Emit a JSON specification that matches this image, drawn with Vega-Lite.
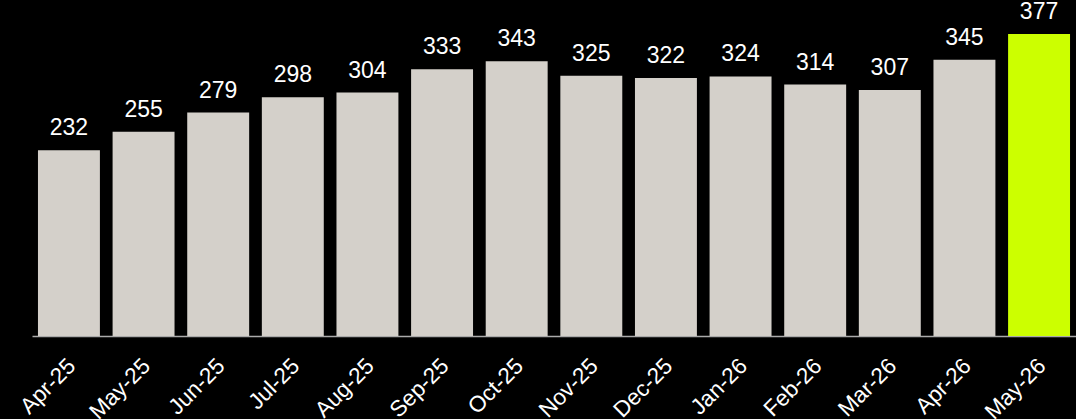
{
  "$schema": "https://vega.github.io/schema/vega-lite/v6.json",
  "width": 1044,
  "height": 336,
  "autosize": {"type": "none"},
  "padding": {"left": 32, "top": 0, "right": 0, "bottom": 83},
  "background": "#000000",
  "config": {"view": {"stroke": null}, "font": "Liberation Sans"},
  "data": {"values": [
    {"month": "Apr-25", "value": 232, "hl": "no"},
    {"month": "May-25", "value": 255, "hl": "no"},
    {"month": "Jun-25", "value": 279, "hl": "no"},
    {"month": "Jul-25", "value": 298, "hl": "no"},
    {"month": "Aug-25", "value": 304, "hl": "no"},
    {"month": "Sep-25", "value": 333, "hl": "no"},
    {"month": "Oct-25", "value": 343, "hl": "no"},
    {"month": "Nov-25", "value": 325, "hl": "no"},
    {"month": "Dec-25", "value": 322, "hl": "no"},
    {"month": "Jan-26", "value": 324, "hl": "no"},
    {"month": "Feb-26", "value": 314, "hl": "no"},
    {"month": "Mar-26", "value": 307, "hl": "no"},
    {"month": "Apr-26", "value": 345, "hl": "no"},
    {"month": "May-26", "value": 377, "hl": "yes"}
  ]},
  "encoding": {
    "x": {"field": "month", "type": "nominal", "sort": null,
      "scale": {"paddingInner": 0.17, "paddingOuter": 0.08},
      "axis": {"title": null, "labelAngle": -45, "labelColor": "#ffffff", "labelFontSize": 22.5,
        "labelAlign": "right", "labelBaseline": "middle", "labelPadding": 26, "labelOffset": 3, "ticks": false,
        "domainColor": "#aaaaaa", "domainWidth": 1.5}},
    "y": {"field": "value", "type": "quantitative", "scale": {"domain": [0, 419.5]}, "axis": null}
  },
  "layer": [
    {"mark": {"type": "bar", "clip": false},
     "encoding": {"color": {"field": "hl", "type": "nominal", "legend": null,
       "scale": {"domain": ["no", "yes"], "range": ["#d4d0ca", "#ccff00"]}}}},
    {"mark": {"type": "text", "color": "#ffffff", "fontSize": 23, "baseline": "alphabetic", "dy": -15, "clip": false},
     "encoding": {"text": {"field": "value", "type": "quantitative"}}}
  ]
}
